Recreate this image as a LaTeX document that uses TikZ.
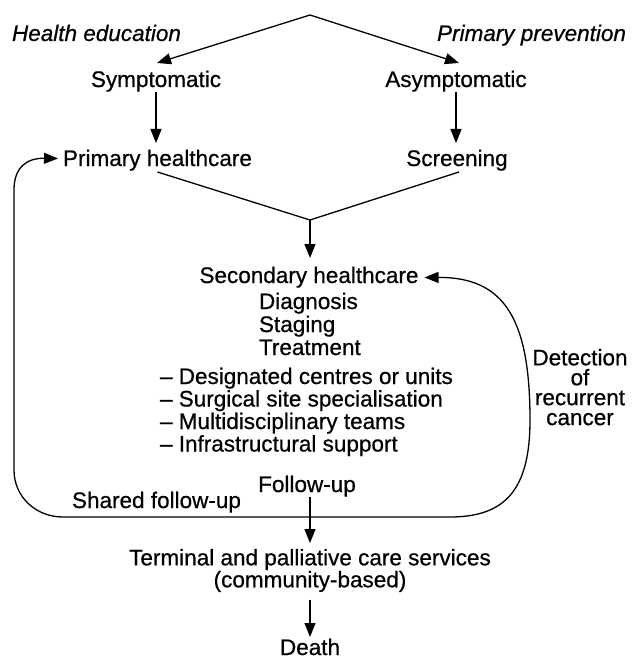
\documentclass[tikz,border=0pt]{standalone}
\usepackage{fontspec}
\setmainfont{Liberation Sans}[UprightFeatures={FakeBold=0.6},ItalicFeatures={FakeBold=0.6}]
\usetikzlibrary{arrows.meta,calc}
\begin{document}
\begin{tikzpicture}[x=1bp,y=-1bp,
  line width=1.3bp,
  arr/.style={-{Triangle[length=14bp,width=11bp]}},
  txt/.style={inner sep=0pt,outer sep=0pt,text height=16bp,text depth=5bp,
    font=\fontsize{22.6}{23}\selectfont},
  itxt/.style={txt,font=\fontsize{22.6}{23}\selectfont\itshape},
  blk/.style={inner sep=0pt,outer sep=0pt,align=center}]
\useasboundingbox (0,0) rectangle (634,659);
% nodes
\coordinate (apex) at (310,15);
\node[itxt,anchor=base west] (he) at (12,41) {Health education};
\node[itxt,anchor=base east] (pp) at (626,41) {Primary prevention};
\node[txt,anchor=base] (sym) at (156,87) {Symptomatic};
\node[txt,anchor=base] (asym) at (456,87) {Asymptomatic};
\node[txt,anchor=base west] (prim) at (63,166) {Primary healthcare};
\node[txt,anchor=base] (scr) at (457,166) {Screening};
\coordinate (jn) at (310,220);
\node[txt,anchor=base] (sec) at (309,283) {Secondary healthcare};
\node[txt,anchor=base west] (d1) at (259,309) {Diagnosis};
\node[txt,anchor=base west] (d2) at (259,332) {Staging};
\node[txt,anchor=base west] (d3) at (259,355) {Treatment};
\node[txt,anchor=base west] (l1) at (160,384) {-- Designated centres or units};
\node[txt,anchor=base west] (l2) at (160,406.5) {-- Surgical site specialisation};
\node[txt,anchor=base west] (l3) at (160,429) {-- Multidisciplinary teams};
\node[txt,anchor=base west] (l4) at (160,451.5) {-- Infrastructural support};
\node[blk,anchor=north,font=\fontsize{22.6}{20}\selectfont] (det) at (580,349)
  {Detection\\of\\recurrent\\cancer};
\node[txt,anchor=base] (fu) at (307,492) {Follow-up};
\node[txt,anchor=base west] (sfu) at (72,508) {Shared follow-up};
\coordinate (jb) at (310,517);
\node[blk,anchor=north,font=\fontsize{22.6}{19.5}\selectfont] (term) at (310,549)
  {Terminal and palliative care services\\(community-based)};
\node[txt,anchor=base] (death) at (310,655) {Death};
% connectors
\draw[arr] (apex) -- ($(sym.north)+(1,-8)$);
\draw[arr] (apex) -- ($(asym.north)+(3,-8)$);
\draw[arr] (sym.south) -- ($(sym.south |- prim.north)+(0,-7)$);
\draw[arr] (asym.south) -- ($(asym.south |- scr.north)+(0,-7)$);
\draw ($(prim.south)+(0,1)$) -- (jn) -- ($(scr.south)+(2,1)$);
\draw[arr] (jn) -- ($(jn |- sec.north)+(0,-9)$);
\draw[arr] (jb |- fu.south) -- ($(jb |- term.north)+(0,-6)$);
\draw[arr] ($(jb |- term.south)+(0,8)$) -- ($(death.north)+(0,-2)$);
\draw[arr] (jb) -- (63,517) .. controls (36,517) and (14,497) .. (14,470)
  -- (14,190) .. controls (14,168) and (26,158) .. ($(prim.west)+(-5,-2)$);
\draw[arr] (jb) -- (450,517) .. controls (505,517) and (530,490) .. (530,420)
  .. controls (530,320) and (505,277) .. ($(sec.east)+(6,0)$);
\end{tikzpicture}
\end{document}
